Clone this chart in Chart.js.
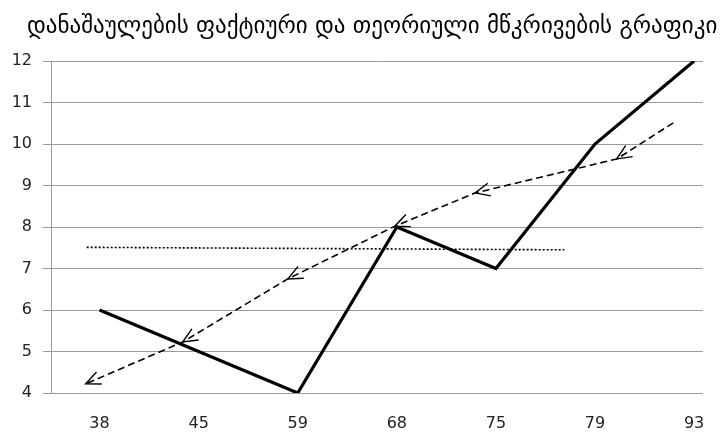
<!DOCTYPE html>
<html>
<head>
<meta charset="utf-8">
<script src="https://cdn.jsdelivr.net/npm/chart.js@4"></script>
<style>
  html, body { margin: 0; padding: 0; background: #fff; }
  #wrap { width: 725px; height: 434px; }
</style>
</head>
<body>
<div id="wrap"><canvas id="chart" width="725" height="434"></canvas></div>
<script>
const chartTitle = 'დანაშაულების ფაქტიური და თეორიული მწკრივების გრაფიკი';

// category labels along the bottom axis
const categories = ['38', '45', '59', '68', '75', '79', '93'];

// actual series, one value per category
const actualValues = [6, 5, 4, 8, 7, 10, 12];

// theoretical series (drawn right to left with arrows), positions in category units
const theoryX = [5.79, 5.22, 3.79, 2.98, 1.90, 0.84, -0.14];
const theoryY = [10.51, 9.64, 8.82, 8.02, 6.75, 5.23, 4.22];

// mean level
const meanX = [-0.13, 4.69];
const meanY = [7.51, 7.45];

const toPoints = (xs, ys) => xs.map((x, i) => ({ x: x, y: ys[i] }));

// Draws the title at a fixed spot above the plot
const titlePlugin = {
    id: 'fixedTitle',
    afterDraw(chart) {
        const ctx = chart.ctx;
        ctx.save();
        ctx.fillStyle = '#000';
        ctx.font = '23px "DejaVu Sans"';
        ctx.textAlign = 'left';
        ctx.textBaseline = 'middle';
        ctx.fillText(chartTitle, 27, 27, 695);
        ctx.restore();
    }
};

// Open arrowheads at every vertex of the theoretical line except the first
const arrowPlugin = {
    id: 'arrowHeads',
    afterDatasetsDraw(chart) {
        const meta = chart.getDatasetMeta(1);
        const ctx = chart.ctx;
        ctx.save();
        ctx.strokeStyle = '#000';
        ctx.lineWidth = 1.4;
        for (let i = 1; i < meta.data.length; i++) {
            const a = meta.data[i - 1], b = meta.data[i];
            const ang = Math.atan2(b.y - a.y, b.x - a.x);
            const len = 16, spread = 0.42;
            ctx.beginPath();
            ctx.moveTo(b.x - len * Math.cos(ang - spread), b.y - len * Math.sin(ang - spread));
            ctx.lineTo(b.x, b.y);
            ctx.lineTo(b.x - len * Math.cos(ang + spread), b.y - len * Math.sin(ang + spread));
            ctx.stroke();
        }
        ctx.restore();
    }
};

new Chart(document.getElementById('chart'), {
    type: 'scatter',
    data: {
        datasets: [{
            label: 'actual',
            data: toPoints(categories.map((c, i) => i), actualValues),
            showLine: true,
            borderColor: '#000',
            borderWidth: 3.2,
            pointRadius: 0,
            tension: 0
        }, {
            label: 'theory',
            data: toPoints(theoryX, theoryY),
            showLine: true,
            borderColor: '#000',
            borderWidth: 1.6,
            borderDash: [7, 4],
            pointRadius: 0,
            tension: 0
        }, {
            label: 'mean',
            data: toPoints(meanX, meanY),
            showLine: true,
            borderColor: '#000',
            borderWidth: 1.6,
            borderDash: [2, 2],
            pointRadius: 0,
            tension: 0
        }]
    },
    options: {
        responsive: false,
        animation: false,
        devicePixelRatio: 1,
        layout: {
            padding: { top: 61, right: 22, left: 0, bottom: 0 }
        },
        plugins: {
            legend: { display: false },
            tooltip: { enabled: false },
            title: { display: false }
        },
        scales: {
            x: {
                type: 'linear',
                min: -0.49,
                max: 6.09,
                afterFit(scale) { scale.height = 41; },
                afterBuildTicks(scale) {
                    scale.ticks = categories.map((c, i) => ({ value: i }));
                },
                ticks: {
                    callback: (v) => categories[v],
                    color: '#222',
                    font: { family: 'DejaVu Sans', size: 16 },
                    padding: 13,
                    maxRotation: 0
                },
                grid: { display: false },
                border: { display: false }
            },
            y: {
                min: 4,
                max: 12,
                afterFit(scale) { scale.width = 51; },
                ticks: {
                    stepSize: 1,
                    color: '#222',
                    font: { family: 'DejaVu Sans', size: 16 },
                    padding: 11
                },
                grid: {
                    color: '#9a9a9a',
                    lineWidth: 1,
                    tickLength: 8
                },
                border: { display: true, color: '#9a9a9a' }
            }
        }
    },
    plugins: [titlePlugin, arrowPlugin]
});
</script>
</body>
</html>
